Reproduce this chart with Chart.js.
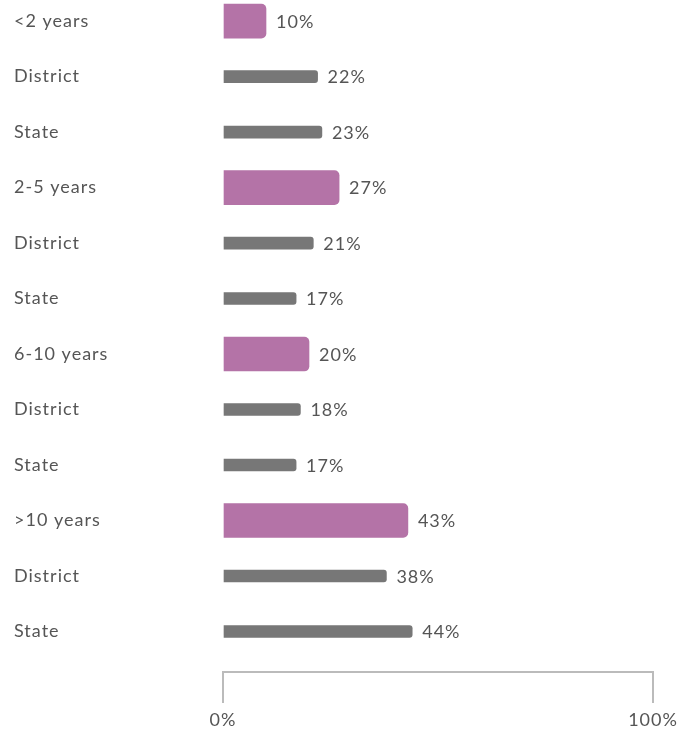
<!DOCTYPE html>
<html>
<head>
<meta charset="utf-8">
<script src="https://cdn.jsdelivr.net/npm/chart.js@4"></script>
<style>
html,body{margin:0;padding:0;background:#fff;}
#wrap{width:694px;height:730px;position:relative;}
</style>
</head>
<body>
<div id="wrap"><canvas id="c"></canvas></div>
<script>
const categories = ['<2 years','District','State','2-5 years','District','State','6-10 years','District','State','>10 years','District','State'];
const groupValues = [10, null, null, 27, null, null, 20, null, null, 43, null, null];
const compareValues = [null, 22, 23, null, 21, 17, null, 18, 17, null, 38, 44];
const xTicks = [0, 100];

const FONT = 'Lato, "Open Sans", sans-serif';
const toPoints = arr => arr.map((v, i) => v === null ? null : {x: v, y: i}).filter(p => p);

const spacing = {
  id: 'spacing',
  beforeInit(chart) { chart.ctx.letterSpacing = '1px'; },
  beforeUpdate(chart) { chart.ctx.letterSpacing = '1px'; },
  beforeDraw(chart) { chart.ctx.letterSpacing = '1px'; }
};

const valueLabels = {
  id: 'valueLabels',
  afterDatasetsDraw(chart) {
    const ctx = chart.ctx;
    ctx.save();
    ctx.letterSpacing = '1px';
    ctx.font = '18px ' + FONT;
    ctx.fillStyle = '#555';
    ctx.textAlign = 'left';
    ctx.textBaseline = 'middle';
    chart.data.datasets.forEach((ds, di) => {
      const meta = chart.getDatasetMeta(di);
      meta.data.forEach((el, i) => {
        const raw = ds.data[i];
        ctx.fillText(raw.x + '%', el.x + 10, el.y + 1);
      });
    });
    ctx.restore();
  }
};

new Chart(document.getElementById('c'), {
  type: 'bar',
  data: {
    datasets: [
      {
        data: toPoints(groupValues),
        backgroundColor: '#b473a7',
        barThickness: 34,
        borderRadius: {topRight: 5, bottomRight: 5, topLeft: 0, bottomLeft: 0},
        borderSkipped: false
      },
      {
        data: toPoints(compareValues),
        backgroundColor: '#777777',
        barThickness: 12,
        borderRadius: {topRight: 3, bottomRight: 3, topLeft: 0, bottomLeft: 0},
        borderSkipped: false
      }
    ]
  },
  options: {
    indexAxis: 'y',
    responsive: true,
    maintainAspectRatio: false,
    animation: false,
    grouped: false,
    layout: {padding: {left: 14, right: 41, top: 0, bottom: 0}},
    plugins: {legend: {display: false}, tooltip: {enabled: false}},
    scales: {
      y: {
        type: 'linear',
        reverse: true,
        offset: false,
        min: -0.38,
        max: 11.73,
        afterFit(scale) { scale.width = 209; scale.paddingTop = 0; scale.paddingBottom = 0; },
        afterBuildTicks(scale) {
          scale.ticks = categories.map((c, i) => ({value: i}));
        },
        grid: {display: false, drawTicks: false, offset: false},
        border: {display: false},
        ticks: {
          crossAlign: 'far',
          padding: 0,
          color: '#555',
          font: {family: FONT, size: 18},
          callback: v => categories[v]
        }
      },
      x: {
        type: 'linear',
        min: 0,
        max: 100,
        afterBuildTicks(scale) {
          scale.ticks = xTicks.map(v => ({value: v}));
        },
        afterFit(scale) { scale.height = 58; },
        grid: {drawOnChartArea: false, drawTicks: true, tickLength: 31, color: '#bbbbbb', lineWidth: 2},
        border: {display: true, color: '#bbbbbb', width: 2},
        ticks: {
          padding: 6,
          color: '#555',
          maxRotation: 0,
          font: {family: FONT, size: 18},
          callback: v => v + '%'
        }
      }
    }
  },
  plugins: [spacing, valueLabels]
});
</script>
</body>
</html>
